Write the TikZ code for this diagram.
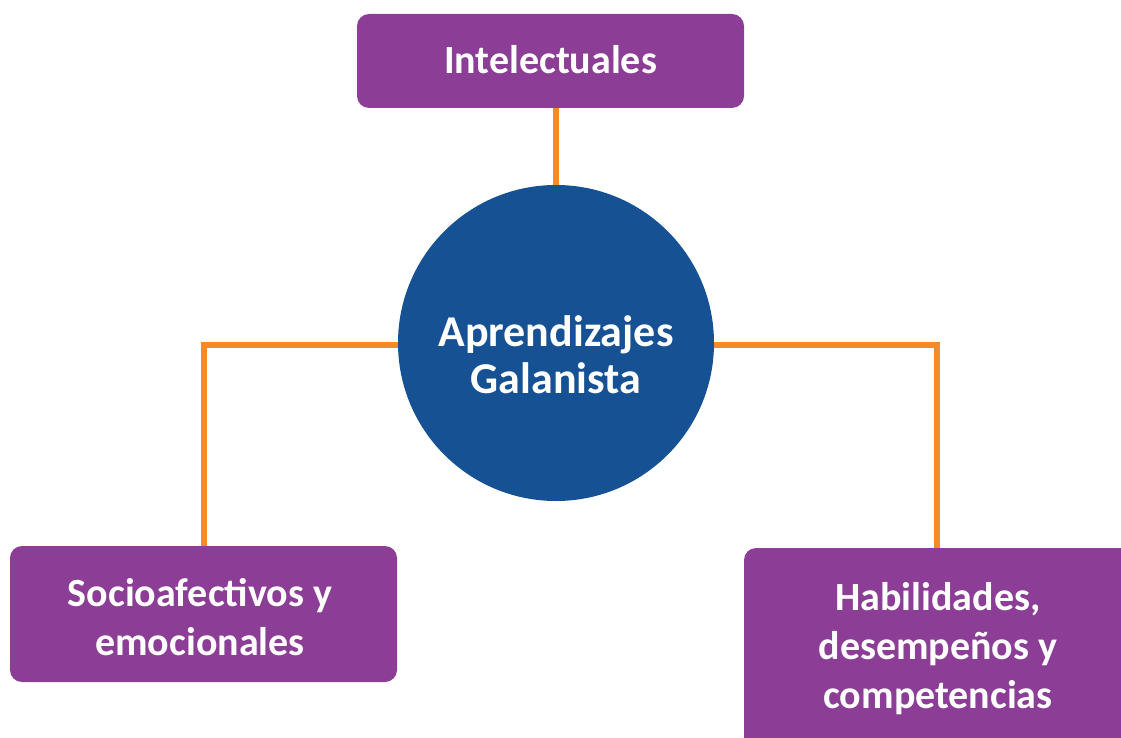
\documentclass[tikz,border=0pt]{standalone}
\usepackage{fontspec}
\setmainfont{Carlito}
\definecolor{boxpurple}{HTML}{8C3D96}
\definecolor{circblue}{HTML}{165193}
\definecolor{lineorange}{HTML}{F58A26}
\begin{document}
\begin{tikzpicture}[x=1pt,y=-1pt,
  boxstyle/.style={fill=boxpurple, rounded corners=12pt, inner sep=0pt},
  txt/.style={text=white, font=\bfseries\fontsize{40}{49}\selectfont, align=center, inner sep=0pt},
  link/.style={draw=lineorange, line width=6pt}]
\useasboundingbox (0,0) rectangle (1121,738);
% circle
\node[circle, fill=circblue, minimum size=316pt, inner sep=0pt] (c) at (556,343) {};
\coordinate (lk) at (204,345);
\coordinate (rk) at (937,345);
% boxes
\node[boxstyle, minimum width=387pt, minimum height=94pt] (topbox) at (550.5,61) {};
\node[boxstyle, minimum width=387pt, minimum height=136pt] (leftbox) at (203.5,614) {};
\node[boxstyle, minimum width=392pt, minimum height=212pt] (rightbox) at (940,654) {};
% connectors
\path[link] (c.north |- topbox.south) -- (c.north);
\path[link] (c.west |- lk) -- (lk) -- (lk |- leftbox.north);
\path[link] (c.east |- rk) -- (rk) -- (rk |- rightbox.north);
% texts
\node[txt] (toptext) at (550.5,60) {Intelectuales};
\node[txt] (lefttext) at (200,617) {Socioafectivos y\\emocionales};
\node[txt] (righttext) at (938,649) {Habilidades,\\desempeños y\\competencias};
\node[txt, font=\bfseries\fontsize{44}{47}\selectfont] (ctext) at (556,355) {Aprendizajes\\Galanista};
\end{tikzpicture}
\end{document}
